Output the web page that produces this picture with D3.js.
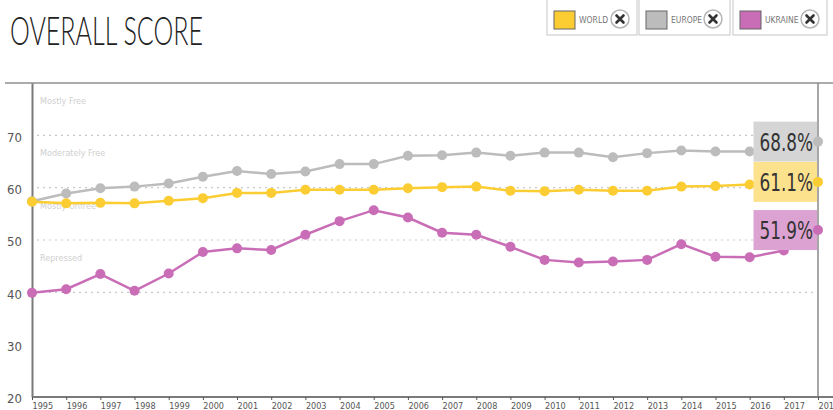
<!DOCTYPE html>
<html>
<head>
<meta charset="utf-8">
<script src="https://cdn.jsdelivr.net/npm/d3@7"></script>
<style>
  body { margin: 0; background: #fff; }
  svg { display: block; }
  .narrow { font-family: 'Liberation Sans Narrow', 'DejaVu Sans Condensed', sans-serif; }
</style>
</head>
<body>
<svg id="chart" width="833" height="410"></svg>
<script>
// dati
const years = [1995, 1996, 1997, 1998, 1999, 2000, 2001, 2002, 2003, 2004, 2005, 2006,
               2007, 2008, 2009, 2010, 2011, 2012, 2013, 2014, 2015, 2016, 2017, 2018];
const world = [57.3, 57.0, 57.1, 57.0, 57.5, 58.0, 59.0, 59.0, 59.6, 59.6, 59.6, 59.9,
               60.1, 60.2, 59.4, 59.3, 59.6, 59.4, 59.4, 60.2, 60.3, 60.6, 60.9, 61.1];
const europe = [57.4, 58.9, 59.9, 60.2, 60.8, 62.1, 63.2, 62.6, 63.1, 64.5, 64.5, 66.1,
                66.2, 66.7, 66.1, 66.7, 66.7, 65.8, 66.6, 67.1, 66.9, 66.9, 67.5, 68.8];
const ukraine = [39.9, 40.6, 43.5, 40.3, 43.6, 47.7, 48.4, 48.1, 51.0, 53.6, 55.7, 54.3,
                 51.4, 51.0, 48.7, 46.2, 45.7, 45.9, 46.2, 49.2, 46.8, 46.7, 48.0, 51.9];
const seriesNames = ["WORLD", "EUROPE", "UKRAINE"];
const yTicks = [20, 30, 40, 50, 60, 70];
const gridValues = [40, 50, 60, 70];
const bandNames = ["Mostly Free", "Moderately Free", "Mostly Unfree", "Repressed"];
const bandTops = [80, 70, 60, 50];

const colors = { WORLD: "#fbcd33", EUROPE: "#bcbcbc", UKRAINE: "#c96db7" };
const boxColors = { WORLD: "#fde28e", EUROPE: "#d5d5d5", UKRAINE: "#dca2d1" };

const svg = d3.select("#chart");

/* scale */
const x = d3.scaleLinear().domain([1995, 2018]).range([32, 818]);
const y = d3.scaleLinear().domain([20, 80]).range([397, 83]);

/* titolo */
svg.append("text")
    .attr("x", 10).attr("y", 45)
    .attr("font-family", "Lato, 'Open Sans', sans-serif")
    .attr("font-weight", 300)
    .attr("font-size", 40)
    .attr("fill", "#222")
    .attr("textLength", 193)
    .attr("lengthAdjust", "spacingAndGlyphs")
    .text("OVERALL SCORE");

/* legenda in alto a destra */
const legendX = [547, 639, 733];
const legendW = [90, 91, 94];
seriesNames.forEach((name, i) => {
    const g = svg.append("g").attr("transform", `translate(${legendX[i]},0)`);
    g.append("rect")
        .attr("x", 0).attr("y", -4).attr("width", legendW[i]).attr("height", 39)
        .attr("fill", "#fff").attr("stroke", "#cfcfcf").attr("stroke-width", 1.2);
    g.append("rect")
        .attr("x", 7).attr("y", 11).attr("width", 21).attr("height", 18)
        .attr("fill", colors[name]).attr("stroke", "#666").attr("stroke-width", 1);
    g.append("text")
        .attr("class", "narrow")
        .attr("x", 32).attr("y", 23)
        .attr("font-size", 8.5)
        .attr("fill", "#777")
        .text(name);
    const cx = legendW[i] - 17, cy = 19;
    g.append("circle")
        .attr("cx", cx).attr("cy", cy).attr("r", 9)
        .attr("fill", "#fff").attr("stroke", "#b5b5b5").attr("stroke-width", 1.5);
    g.append("path")
        .attr("d", `M${cx - 3.5},${cy - 3.5}L${cx + 3.5},${cy + 3.5}M${cx + 3.5},${cy - 3.5}L${cx - 3.5},${cy + 3.5}`)
        .attr("stroke", "#333").attr("stroke-width", 2.6).attr("stroke-linecap", "round");
});

/* griglia tratteggiata */
svg.append("g").selectAll("line")
    .data(gridValues)
    .enter().append("line")
    .attr("x1", x(1995) + 5).attr("x2", x(2018) - 2)
    .attr("y1", d => y(d)).attr("y2", d => y(d))
    .attr("stroke", "#c8c8c8").attr("stroke-width", 1.2)
    .attr("stroke-dasharray", "2,4");

/* etichette delle fasce */
svg.append("g").selectAll("text")
    .data(bandNames)
    .enter().append("text")
    .attr("class", "narrow")
    .attr("x", 40)
    .attr("y", (d, i) => y(bandTops[i]) + 21)
    .attr("font-size", 9)
    .attr("fill", "#cfcfcf")
    .text(d => d);

/* bordi del grafico */
svg.append("line")
    .attr("x1", 5).attr("x2", 833).attr("y1", y(80)).attr("y2", y(80))
    .attr("stroke", "#ababab").attr("stroke-width", 2);
svg.append("line")
    .attr("x1", x(2018)).attr("x2", x(2018)).attr("y1", y(80)).attr("y2", y(20))
    .attr("stroke", "#8a8a8a").attr("stroke-width", 1.5);

/* asse Y */
const yAxis = svg.append("g")
    .attr("transform", `translate(${x(1995)},0)`)
    .call(d3.axisLeft(y).tickValues(yTicks).tickSize(0).tickPadding(10));
yAxis.select(".domain").attr("stroke", "#7a7a7a").attr("stroke-width", 2);
yAxis.selectAll("text")
    .attr("class", "narrow")
    .attr("font-size", 13)
    .attr("fill", "#555")
    .attr("dy", "0.45em");

/* asse X */
const xAxis = svg.append("g")
    .attr("transform", `translate(0,${y(20)})`)
    .call(d3.axisBottom(x).tickValues(years).tickFormat(d3.format("d")).tickSize(3).tickPadding(5));
xAxis.select(".domain").attr("d", `M${x(1995)},0H833`).attr("stroke", "#7a7a7a").attr("stroke-width", 2);
xAxis.selectAll(".tick line").attr("stroke", "#555");
xAxis.selectAll("text")
    .attr("class", "narrow")
    .attr("font-size", 9)
    .attr("fill", "#555")
    .attr("text-anchor", "start")
    .attr("dy", 0)
    .attr("y", 11.5);

/* linee e punti */
const seriesData = { WORLD: world, EUROPE: europe, UKRAINE: ukraine };
const line = d3.line().x((d, i) => x(years[i])).y(d => y(d));
const drawOrder = ["EUROPE", "WORLD", "UKRAINE"];

drawOrder.forEach(name => {
    const vals = seriesData[name];
    const g = svg.append("g");
    g.append("path")
        .datum(vals)
        .attr("d", line)
        .attr("fill", "none")
        .attr("stroke", colors[name])
        .attr("stroke-width", 2.5);
    g.selectAll("circle")
        .data(vals.slice(0, -1))
        .enter().append("circle")
        .attr("cx", (d, i) => x(years[i]))
        .attr("cy", d => y(d))
        .attr("r", 5)
        .attr("fill", colors[name]);
});

/* etichette con l'ultimo valore */
drawOrder.forEach(name => {
    const vals = seriesData[name];
    const last = vals[vals.length - 1];
    const g = svg.append("g");
    const box = g.append("rect");
    const t = g.append("text")
        .attr("class", "narrow")
        .attr("x", x(2018) - 5)
        .attr("y", y(last) + 9)
        .attr("font-size", 24)
        .attr("fill", "#333")
        .attr("text-anchor", "end")
        .text(last.toFixed(1) + "%");
    const w = t.node().getComputedTextLength() * 0.78;
    t.attr("textLength", w).attr("lengthAdjust", "spacingAndGlyphs");
    box.attr("x", x(2018) - 5 - w - 6)
        .attr("y", y(last) - 20)
        .attr("width", w + 10)
        .attr("height", 40)
        .attr("fill", boxColors[name]);
    g.append("circle")
        .attr("cx", x(2018))
        .attr("cy", y(last))
        .attr("r", 5)
        .attr("fill", colors[name]);
});
</script>
</body>
</html>
